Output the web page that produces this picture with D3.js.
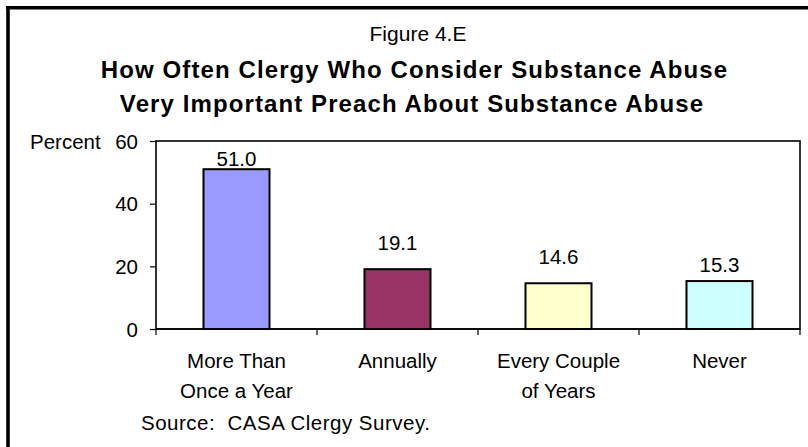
<!DOCTYPE html>
<html><head><meta charset="utf-8">
<script src="https://cdn.jsdelivr.net/npm/d3@7"></script>
<style>
html,body{margin:0;padding:0;background:#fff;}
svg{display:block;}
text{font-family:Arial,"Liberation Sans",sans-serif;fill:#000;}
</style></head>
<body>
<svg id="c" width="808" height="447"></svg>
<script>
const categories = [["More Than","Once a Year"],["Annually"],["Every Couple","of Years"],["Never"]];
const values = [51.0, 19.1, 14.6, 15.3];
const valueLabels = ["51.0","19.1","14.6","15.3"];
const colors = ["#9999FF","#993366","#FFFFCC","#CCFFFF"];
const yTicks = [0, 20, 40, 60];
const figureLabel = "Figure 4.E";
const titleLines = ["How Often Clergy Who Consider Substance Abuse","Very Important Preach About Substance Abuse"];
const yAxisTitle = "Percent";
const sourceText = "Source:  CASA Clergy Survey.";

// layout (not data)
const labelGaps = [3, 19, 19, 9];

const svg = d3.select("#c");
const L = 156, R = 800, T = 141, B = 329;
const x = d3.scaleBand().domain(d3.range(values.length)).range([L, R]).padding(0);
const y = d3.scaleLinear().domain([0, 60]).range([B, T]);
const barW = x.bandwidth() * 0.41;

// outer border (top + left)
svg.append("line").attr("x1",6).attr("x2",808).attr("y1",7.8).attr("y2",7.8).attr("stroke","#000").attr("stroke-width",3.6);
svg.append("line").attr("x1",8).attr("x2",8).attr("y1",6).attr("y2",447).attr("stroke","#000").attr("stroke-width",3.6);

// titles
svg.append("text").attr("x",418).attr("y",40.5).attr("text-anchor","middle").style("font-size","21px").text(figureLabel);
titleLines.forEach((t,i)=>{
  svg.append("text").attr("x",i===0?414.5:412).attr("y",i===0?77.5:111.5).attr("text-anchor","middle")
    .style("font-size","24px").style("font-weight","bold").style("letter-spacing","1.1px").text(t);
});

// plot frame
svg.append("rect").attr("x",L).attr("y",T).attr("width",R-L).attr("height",B-T)
  .attr("fill","none").attr("stroke","#000").attr("stroke-width",1.6);

// y axis
const yAxis = d3.axisLeft(y).tickValues(yTicks).tickSize(6).tickPadding(12).tickFormat(d3.format("d"));
const gy = svg.append("g").attr("transform",`translate(${L},0)`).call(yAxis);
gy.select(".domain").remove();
gy.selectAll(".tick line").attr("stroke","#000").attr("stroke-width",1.2);
gy.selectAll(".tick text").style("font-size","20.5px").style("font-family","Arial,'Liberation Sans',sans-serif").attr("dy","0.35em");

svg.append("text").attr("x",30).attr("y",149).style("font-size","20.5px").text(yAxisTitle);

// x ticks at band boundaries
const bounds = d3.range(values.length+1).map(i => i < values.length ? x(i) : R);
svg.selectAll(".xt").data(bounds).join("line").attr("class","xt")
  .attr("x1",d=>d).attr("x2",d=>d).attr("y1",B).attr("y2",B+6)
  .attr("stroke","#000").attr("stroke-width",1.2);

// bars
svg.selectAll(".bar").data(values).join("rect").attr("class","bar")
  .attr("x",(d,i)=>x(i)+x.bandwidth()/2-barW/2)
  .attr("y",d=>y(d))
  .attr("width",barW)
  .attr("height",d=>B-y(d))
  .attr("fill",(d,i)=>colors[i])
  .attr("stroke","#000").attr("stroke-width",2);

// redraw x axis line above bars
svg.append("line").attr("x1",L).attr("x2",R).attr("y1",B).attr("y2",B).attr("stroke","#000").attr("stroke-width",1.6);

// value labels
svg.selectAll(".vl").data(values).join("text").attr("class","vl")
  .attr("x",(d,i)=>x(i)+x.bandwidth()/2)
  .attr("y",(d,i)=>y(d)-labelGaps[i])
  .attr("text-anchor","middle").style("font-size","20.5px")
  .text((d,i)=>valueLabels[i]);

// category labels
categories.forEach((lines,i)=>{
  lines.forEach((ln,j)=>{
    svg.append("text").attr("x",x(i)+x.bandwidth()/2).attr("y",367.5+j*30.6)
      .attr("text-anchor","middle").style("font-size","20.5px").text(ln);
  });
});

// source
svg.append("text").attr("x",141).attr("y",430).style("font-size","20.5px").style("white-space","pre")
  .style("letter-spacing","0.5px").text(sourceText);
</script>
</body></html>
